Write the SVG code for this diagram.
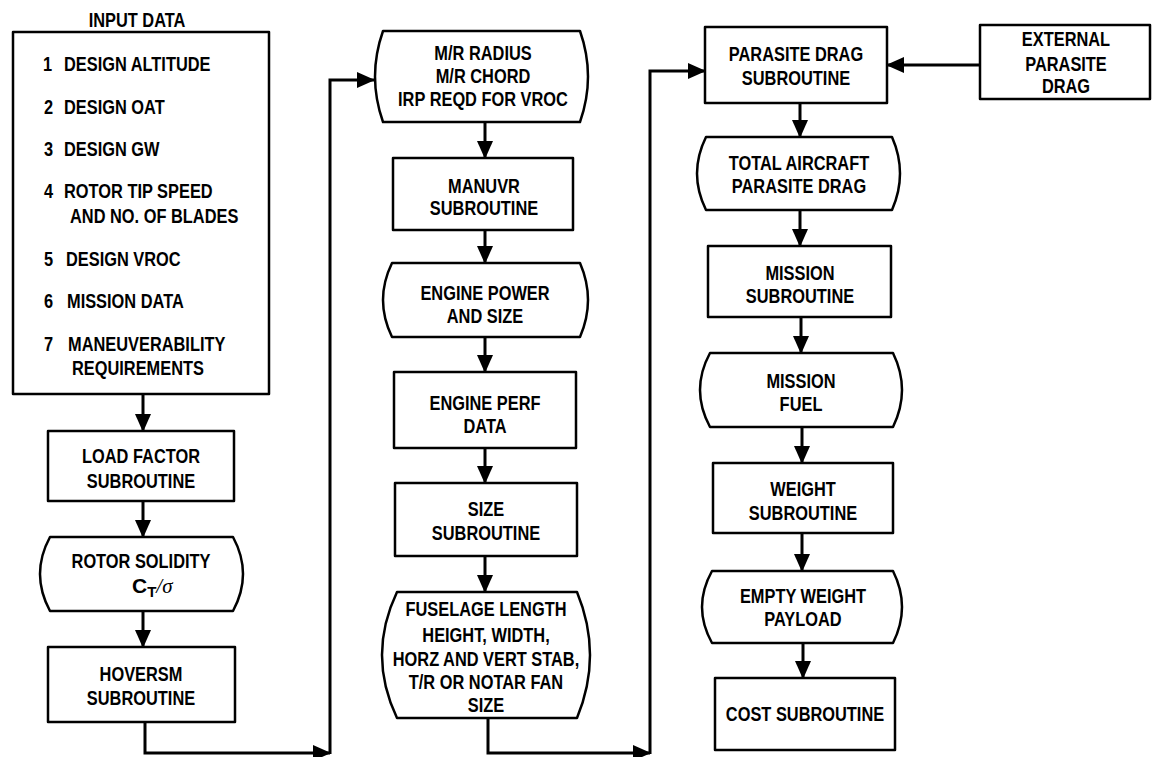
<svg xmlns="http://www.w3.org/2000/svg" width="1152" height="757" viewBox="0 0 1152 757">
<style>
.bg{fill:#fff}
.box{fill:#fff;stroke:#000;stroke-width:2.5;stroke-linejoin:round}
.t{font-family:"Liberation Sans",Arial,sans-serif;font-weight:bold;font-size:21px;fill:#000}
.c{text-anchor:middle}
.ln{fill:none;stroke:#000;stroke-width:3}
</style>
<defs>
<marker id="ah" viewBox="0 0 18 16" refX="17" refY="8" markerWidth="18" markerHeight="16" markerUnits="userSpaceOnUse" orient="auto">
<path d="M0 0 L18 8 L0 16 Z" fill="#000"/>
</marker>
</defs>
<rect class="bg" x="0" y="0" width="1152" height="757"/>

<g id="input-data">
<text class="t c" transform="translate(137 27) scale(.78 1)">INPUT DATA</text>
<rect class="box" x="13" y="32" width="256" height="362"/>
<text class="t" transform="translate(43 71) scale(.78 1)">1</text>
<text class="t" transform="translate(64 71) scale(.78 1)">DESIGN ALTITUDE</text>
<text class="t" transform="translate(44 114) scale(.78 1)">2</text>
<text class="t" transform="translate(64 114) scale(.78 1)">DESIGN OAT</text>
<text class="t" transform="translate(44 156) scale(.78 1)">3</text>
<text class="t" transform="translate(64 156) scale(.78 1)">DESIGN GW</text>
<text class="t" transform="translate(44 198) scale(.78 1)">4</text>
<text class="t" transform="translate(64 198) scale(.78 1)">ROTOR TIP SPEED</text>
<text class="t" transform="translate(70 223) scale(.78 1)">AND NO. OF BLADES</text>
<text class="t" transform="translate(44 266) scale(.78 1)">5</text>
<text class="t" transform="translate(66 266) scale(.78 1)">DESIGN VROC</text>
<text class="t" transform="translate(44 308) scale(.78 1)">6</text>
<text class="t" transform="translate(67 308) scale(.78 1)">MISSION DATA</text>
<text class="t" transform="translate(44 351) scale(.78 1)">7</text>
<text class="t" transform="translate(68 351) scale(.78 1)">MANEUVERABILITY</text>
<text class="t" transform="translate(72 375) scale(.78 1)">REQUIREMENTS</text>
</g>

<g id="load-factor">
<rect class="box" x="48" y="431" width="186" height="70"/>
<text class="t c" transform="translate(141 463) scale(.78 1)">LOAD FACTOR</text>
<text class="t c" transform="translate(141 488) scale(.78 1)">SUBROUTINE</text>
</g>

<g id="rotor-solidity">
<path class="box" d="M50 537 H233 Q253 574 233 611 H50 Q30 574 50 537 Z"/>
<text class="t c" transform="translate(141 568) scale(.78 1)">ROTOR SOLIDITY</text>
<text class="t" x="132" y="593">C<tspan font-size="15" dy="4">T</tspan><tspan dy="-4" font-weight="normal" font-style="italic" font-family="Liberation Serif, serif">/σ</tspan></text>
</g>

<g id="hoversm">
<rect class="box" x="48" y="647" width="187" height="75"/>
<text class="t c" transform="translate(141 681) scale(.78 1)">HOVERSM</text>
<text class="t c" transform="translate(141 705) scale(.78 1)">SUBROUTINE</text>
</g>

<g id="mr-radius">
<path class="box" d="M383 31 H580 Q596 76.5 580 122 H383 Q367 76.5 383 31 Z"/>
<text class="t c" transform="translate(483 60) scale(.78 1)">M/R RADIUS</text>
<text class="t c" transform="translate(483 83) scale(.78 1)">M/R CHORD</text>
<text class="t c" transform="translate(483 106) scale(.78 1)">IRP REQD FOR VROC</text>
</g>

<g id="manuvr">
<rect class="box" x="393" y="158" width="180" height="72"/>
<text class="t c" transform="translate(484 193) scale(.78 1)">MANUVR</text>
<text class="t c" transform="translate(484 215) scale(.78 1)">SUBROUTINE</text>
</g>

<g id="engine-power">
<path class="box" d="M392 263 H580 Q596 300 580 337 H392 Q374 300 392 263 Z"/>
<text class="t c" transform="translate(485 300) scale(.78 1)">ENGINE POWER</text>
<text class="t c" transform="translate(485 323) scale(.78 1)">AND SIZE</text>
</g>

<g id="engine-perf">
<rect class="box" x="394" y="372" width="182" height="76"/>
<text class="t c" transform="translate(485 410) scale(.78 1)">ENGINE PERF</text>
<text class="t c" transform="translate(485 433) scale(.78 1)">DATA</text>
</g>

<g id="size">
<rect class="box" x="395" y="483" width="182" height="73"/>
<text class="t c" transform="translate(486 516) scale(.78 1)">SIZE</text>
<text class="t c" transform="translate(486 540) scale(.78 1)">SUBROUTINE</text>
</g>

<g id="fuselage">
<path class="box" d="M397 592 H577 Q603 655 577 718 H397 Q367 655 397 592 Z"/>
<text class="t c" transform="translate(486 616) scale(.78 1)">FUSELAGE LENGTH</text>
<text class="t c" transform="translate(486 642) scale(.78 1)">HEIGHT, WIDTH,</text>
<text class="t c" transform="translate(486 666) scale(.78 1)">HORZ AND VERT STAB,</text>
<text class="t c" transform="translate(486 689) scale(.78 1)">T/R OR NOTAR FAN</text>
<text class="t c" transform="translate(486 712) scale(.78 1)">SIZE</text>
</g>

<g id="parasite-drag">
<rect class="box" x="705" y="27" width="182" height="76"/>
<text class="t c" transform="translate(796 61) scale(.78 1)">PARASITE DRAG</text>
<text class="t c" transform="translate(796 85) scale(.78 1)">SUBROUTINE</text>
</g>

<g id="external-parasite-drag">
<rect class="box" x="980" y="25" width="170" height="74"/>
<text class="t c" transform="translate(1066 46) scale(.78 1)">EXTERNAL</text>
<text class="t c" transform="translate(1066 71) scale(.78 1)">PARASITE</text>
<text class="t c" transform="translate(1066 93) scale(.78 1)">DRAG</text>
</g>

<g id="total-aircraft">
<path class="box" d="M706 137 H892 Q908 173.5 892 210 H706 Q688 173.5 706 137 Z"/>
<text class="t c" transform="translate(799 170) scale(.78 1)">TOTAL AIRCRAFT</text>
<text class="t c" transform="translate(799 193) scale(.78 1)">PARASITE DRAG</text>
</g>

<g id="mission-sub">
<rect class="box" x="708" y="246" width="183" height="71"/>
<text class="t c" transform="translate(800 280) scale(.78 1)">MISSION</text>
<text class="t c" transform="translate(800 303) scale(.78 1)">SUBROUTINE</text>
</g>

<g id="mission-fuel">
<path class="box" d="M710 353 H893 Q911 390 893 427 H710 Q690 390 710 353 Z"/>
<text class="t c" transform="translate(801 388) scale(.78 1)">MISSION</text>
<text class="t c" transform="translate(801 411) scale(.78 1)">FUEL</text>
</g>

<g id="weight">
<rect class="box" x="713" y="463" width="180" height="70"/>
<text class="t c" transform="translate(803 496) scale(.78 1)">WEIGHT</text>
<text class="t c" transform="translate(803 520) scale(.78 1)">SUBROUTINE</text>
</g>

<g id="empty-weight">
<path class="box" d="M712 571 H893 Q911 607 893 643 H712 Q692 607 712 571 Z"/>
<text class="t c" transform="translate(803 603) scale(.78 1)">EMPTY WEIGHT</text>
<text class="t c" transform="translate(803 626) scale(.78 1)">PAYLOAD</text>
</g>

<g id="cost">
<rect class="box" x="715" y="678" width="180" height="72"/>
<text class="t c" transform="translate(805 721) scale(.78 1)">COST SUBROUTINE</text>
</g>

<g id="connectors">
<path class="ln" d="M143 394 V431" marker-end="url(#ah)"/>
<path class="ln" d="M143 501 V537" marker-end="url(#ah)"/>
<path class="ln" d="M143 611 V647" marker-end="url(#ah)"/>
<path class="ln" d="M145 722 V753 H330" marker-end="url(#ah)"/>
<path class="ln" d="M330 754 V80 H374" marker-end="url(#ah)"/>
<path class="ln" d="M485 122 V158" marker-end="url(#ah)"/>
<path class="ln" d="M485 230 V263" marker-end="url(#ah)"/>
<path class="ln" d="M485 337 V372" marker-end="url(#ah)"/>
<path class="ln" d="M485 448 V483" marker-end="url(#ah)"/>
<path class="ln" d="M485 556 V592" marker-end="url(#ah)"/>
<path class="ln" d="M488 718 V753 H650" marker-end="url(#ah)"/>
<path class="ln" d="M650 754 V71 H705" marker-end="url(#ah)"/>
<path class="ln" d="M980 65 H887" marker-end="url(#ah)"/>
<path class="ln" d="M800 103 V137" marker-end="url(#ah)"/>
<path class="ln" d="M800 210 V246" marker-end="url(#ah)"/>
<path class="ln" d="M801 317 V353" marker-end="url(#ah)"/>
<path class="ln" d="M802 427 V463" marker-end="url(#ah)"/>
<path class="ln" d="M802 533 V571" marker-end="url(#ah)"/>
<path class="ln" d="M803 643 V678" marker-end="url(#ah)"/>
</g>
</svg>
